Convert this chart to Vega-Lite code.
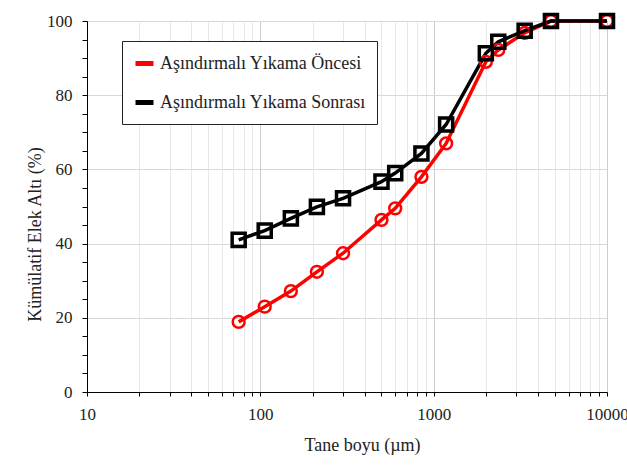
{
  "$schema": "https://vega.github.io/schema/vega-lite/v6.json",
  "autosize": {"type": "none"},
  "padding": {"left": 87, "top": 21, "right": 20, "bottom": 75},
  "width": 520,
  "height": 371,
  "background": "white",
  "config": {
    "font": "Liberation Serif",
    "view": {"stroke": "#555", "strokeWidth": 1},
    "axis": {"labelFont": "Liberation Serif", "titleFont": "Liberation Serif", "labelColor": "#222", "titleColor": "#222", "titleFontWeight": "normal", "domainColor": "#000", "tickColor": "#000"}
  },
  "data": {
    "values": [
      {"seri": "Aşındırmalı Yıkama Öncesi", "boyut": 75, "yuzde": 18.9},
      {"seri": "Aşındırmalı Yıkama Öncesi", "boyut": 106, "yuzde": 23.0},
      {"seri": "Aşındırmalı Yıkama Öncesi", "boyut": 150, "yuzde": 27.2},
      {"seri": "Aşındırmalı Yıkama Öncesi", "boyut": 212, "yuzde": 32.4},
      {"seri": "Aşındırmalı Yıkama Öncesi", "boyut": 300, "yuzde": 37.4},
      {"seri": "Aşındırmalı Yıkama Öncesi", "boyut": 500, "yuzde": 46.4},
      {"seri": "Aşındırmalı Yıkama Öncesi", "boyut": 600, "yuzde": 49.5},
      {"seri": "Aşındırmalı Yıkama Öncesi", "boyut": 850, "yuzde": 58.0},
      {"seri": "Aşındırmalı Yıkama Öncesi", "boyut": 1180, "yuzde": 67.0},
      {"seri": "Aşındırmalı Yıkama Öncesi", "boyut": 2000, "yuzde": 89.0},
      {"seri": "Aşındırmalı Yıkama Öncesi", "boyut": 2360, "yuzde": 92.2},
      {"seri": "Aşındırmalı Yıkama Öncesi", "boyut": 3350, "yuzde": 96.8},
      {"seri": "Aşındırmalı Yıkama Öncesi", "boyut": 4750, "yuzde": 100},
      {"seri": "Aşındırmalı Yıkama Öncesi", "boyut": 10000, "yuzde": 100},
      {"seri": "Aşındırmalı Yıkama Sonrası", "boyut": 75, "yuzde": 41.0},
      {"seri": "Aşındırmalı Yıkama Sonrası", "boyut": 106, "yuzde": 43.5},
      {"seri": "Aşındırmalı Yıkama Sonrası", "boyut": 150, "yuzde": 46.8},
      {"seri": "Aşındırmalı Yıkama Sonrası", "boyut": 212, "yuzde": 49.9},
      {"seri": "Aşındırmalı Yıkama Sonrası", "boyut": 300, "yuzde": 52.2},
      {"seri": "Aşındırmalı Yıkama Sonrası", "boyut": 500, "yuzde": 56.7},
      {"seri": "Aşındırmalı Yıkama Sonrası", "boyut": 600, "yuzde": 59.0},
      {"seri": "Aşındırmalı Yıkama Sonrası", "boyut": 850, "yuzde": 64.3},
      {"seri": "Aşındırmalı Yıkama Sonrası", "boyut": 1180, "yuzde": 72.1},
      {"seri": "Aşındırmalı Yıkama Sonrası", "boyut": 2000, "yuzde": 91.3},
      {"seri": "Aşındırmalı Yıkama Sonrası", "boyut": 2360, "yuzde": 94.4},
      {"seri": "Aşındırmalı Yıkama Sonrası", "boyut": 3350, "yuzde": 97.4},
      {"seri": "Aşındırmalı Yıkama Sonrası", "boyut": 4750, "yuzde": 100},
      {"seri": "Aşındırmalı Yıkama Sonrası", "boyut": 10000, "yuzde": 100}
    ]
  },
  "encoding": {
    "x": {
      "field": "boyut", "type": "quantitative",
      "scale": {"type": "log", "domain": [10, 10000], "nice": false},
      "axis": {
        "title": "Tane boyu (µm)",
        "titleFontSize": 18,
        "titleX": 275, "titleY": 58, "titleAlign": "center", "titleBaseline": "alphabetic",
        "values": [10,20,30,40,50,60,70,80,90,100,200,300,400,500,600,700,800,900,1000,2000,3000,4000,5000,6000,7000,8000,9000,10000],
        "labelExpr": "indexof([10,100,1000,10000], datum.value) >= 0 ? format(datum.value, 'd') : ''",
        "labelFontSize": 17,
        "labelPadding": 10,
        "labelFlush": false,
        "labelOverlap": false,
        "tickSize": 4,
        "grid": true,
        "gridColor": {"condition": {"test": "indexof([10,100,1000,10000], datum.value) >= 0", "value": "#cccccc"}, "value": "#e8e8e8"}
      }
    },
    "y": {
      "field": "yuzde", "type": "quantitative",
      "scale": {"domain": [0, 100], "nice": false},
      "axis": {
        "title": "Kümülatif Elek Altı (%)",
        "titleFontSize": 18,
        "titleX": -47, "titleY": 213, "titleAngle": -90, "titleAlign": "center", "titleBaseline": "alphabetic",
        "values": [0,5,10,15,20,25,30,35,40,45,50,55,60,65,70,75,80,85,90,95,100],
        "labelExpr": "datum.value % 20 == 0 ? datum.label : ''",
        "labelFontSize": 17,
        "labelPadding": 10,
        "labelOverlap": false,
        "labelFlush": false,
        "tickSize": 5,
        "grid": true,
        "gridColor": "#d9d9d9",
        "gridOpacity": {"condition": {"test": "datum.value % 20 == 0", "value": 1}, "value": 0}
      }
    }
  },
  "layer": [
    {
      "mark": {"type": "line", "strokeWidth": 3.5, "clip": false},
      "encoding": {
        "color": {
          "field": "seri", "type": "nominal",
          "scale": {"domain": ["Aşındırmalı Yıkama Öncesi", "Aşındırmalı Yıkama Sonrası"], "range": ["#ff0000", "#000000"]},
          "legend": {
            "title": null,
            "orient": "none",
            "legendX": 35,
            "legendY": 20,
            "direction": "vertical",
            "symbolType": "stroke",
            "symbolSize": 324,
            "symbolStrokeWidth": 5,
            "labelFont": "Liberation Serif",
            "labelFontSize": 18,
            "labelColor": "#222",
            "labelLimit": 400,
            "labelOffset": 4,
            "rowPadding": 17,
            "padding": 11,
            "strokeColor": "#222",
            "fillColor": "white"
          }
        }
      }
    },
    {
      "transform": [{"filter": "datum.seri == 'Aşındırmalı Yıkama Öncesi'"}],
      "mark": {"type": "point", "shape": "circle", "filled": false, "stroke": "#ff0000", "strokeWidth": 2.5, "size": 140, "opacity": 1, "clip": false}
    },
    {
      "transform": [{"filter": "datum.seri == 'Aşındırmalı Yıkama Sonrası'"}],
      "mark": {"type": "point", "shape": "square", "filled": false, "stroke": "#000000", "strokeWidth": 3.5, "size": 170, "opacity": 1, "clip": false}
    }
  ]
}
